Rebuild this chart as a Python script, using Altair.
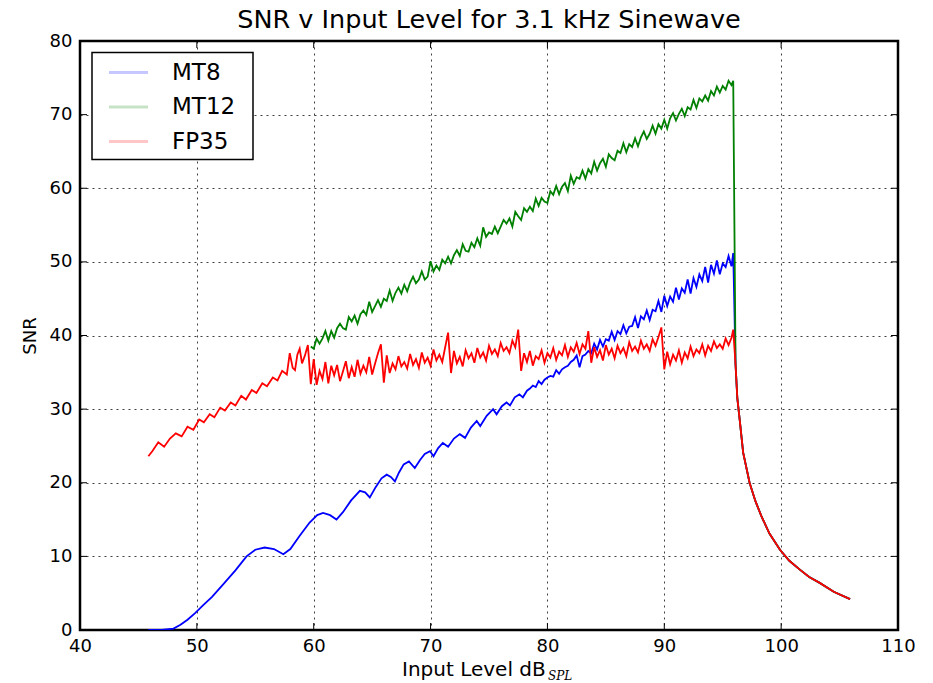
import altair as alt
import pandas as pd

SERIES = ["MT8", "MT12", "FP35"]
COLORS = ["#0000ff", "#008000", "#ff0000"]
X_TICKS = [40, 50, 60, 70, 80, 90, 100, 110]
Y_TICKS = [0, 10, 20, 30, 40, 50, 60, 70, 80]
STEP = 0.25

# shared decay after the 96 dB cut-off
TAIL_X = [96.1, 96.25, 96.45, 96.75, 97.3, 97.8, 98.3, 99.0, 99.9, 100.7, 101.6, 102.4, 103.3, 104.5, 105.9]
TAIL_Y = [36.0, 31.5, 28.6, 24.1, 20.0, 17.5, 15.5, 13.1, 10.9, 9.4, 8.2, 7.2, 6.4, 5.2, 4.2]

# MT8 (blue)
MT8_SMOOTH_X = [45.85, 47.0, 48.0, 48.6, 49.2, 49.85, 50.5, 51.3, 52.25, 53.3,
                54.25, 55.0, 55.8, 56.6, 57.4, 58.0, 58.8, 59.65, 60.3, 60.8,
                61.4, 61.95, 62.5, 63.2, 63.95, 64.4, 64.8, 65.3, 65.8, 66.25,
                66.6, 66.95, 67.3, 67.7, 68.15, 68.65, 69.1, 69.5, 69.95, 70.25,
                70.65, 71.05, 71.5, 72.0, 72.5, 72.95, 73.45, 73.95, 74.25, 74.8,
                75.35, 75.65, 76.1, 76.5, 76.8, 77.2, 77.6, 77.9, 78.25]
MT8_SMOOTH_Y = [0.0, 0.0, 0.2, 0.7, 1.4, 2.3, 3.3, 4.5, 6.2, 8.1,
                10.0, 10.9, 11.2, 11.0, 10.3, 11.0, 12.8, 14.6, 15.6, 15.9,
                15.6, 15.0, 16.0, 17.6, 18.9, 18.7, 18.0, 19.4, 20.6, 21.1,
                20.8, 20.2, 21.4, 22.5, 22.9, 22.0, 23.1, 23.9, 24.3, 23.6,
                24.7, 25.4, 24.9, 26.0, 26.6, 26.1, 27.5, 28.4, 27.7, 29.1,
                30.0, 29.3, 30.4, 30.9, 30.5, 31.6, 32.0, 31.6, 32.5]
MT8_NOISY_START = 78.5
MT8_NOISY_Y = [
    32.8, 33.2, 33.0, 33.8, 33.4, 34.0, 34.3, 34.5,
    34.4, 35.3, 34.8, 35.4, 35.7, 35.9, 36.4, 36.7,
    37.3, 35.7, 37.2, 37.4, 37.9, 37.6, 38.9, 38.1,
    39.4, 38.5, 39.5, 39.3, 40.5, 39.4, 40.6, 40.2,
    41.4, 40.3, 41.2, 41.3, 42.5, 41.0, 42.6, 42.2,
    43.4, 42.1, 43.5, 43.3, 44.7, 43.2, 45.4, 44.0,
    45.3, 44.6, 46.5, 44.9, 46.4, 45.8, 47.6, 45.7,
    47.8, 46.6, 48.3, 47.4, 49.3, 47.2, 49.6, 48.4,
    50.2, 48.3, 49.8, 49.3, 50.8, 49.4,
]
MT8_PEAK_X, MT8_PEAK_Y = 95.9, 51.2

# MT12 (green)
MT12_NOISY_START = 59.75
MT12_NOISY_Y = [
    38.5, 38.2, 39.6, 38.9, 39.6, 40.6, 39.3, 40.6,
    39.7, 41.0, 41.6, 41.0, 40.8, 42.5, 41.9, 42.7,
    41.6, 42.9, 43.4, 42.8, 44.6, 43.2, 44.0, 44.8,
    43.9, 45.0, 44.7, 46.1, 44.7, 45.8, 46.5, 45.7,
    46.9, 46.0, 47.2, 48.0, 47.1, 47.6, 48.7, 47.6,
    48.0, 50.1, 48.7, 49.5, 48.9, 50.3, 49.8, 50.7,
    49.8, 50.9, 51.6, 50.8, 52.4, 51.5, 51.4, 52.6,
    52.0, 53.2, 52.2, 54.7, 53.4, 54.0, 53.8, 54.8,
    53.9, 54.8, 55.7, 55.2, 55.9, 54.8, 56.8, 56.2,
    55.7, 57.3, 56.8, 57.5, 56.9, 58.6, 57.6, 58.7,
    58.2, 58.0, 59.6, 59.1, 60.3, 59.2, 60.2, 60.7,
    59.6, 61.7, 60.6, 61.5, 61.3, 62.4, 61.3, 62.6,
    62.0, 63.6, 62.4, 63.4, 64.0, 62.9, 64.6, 64.1,
    63.8, 65.1, 64.8, 66.1, 64.9, 66.0, 65.6, 66.8,
    65.7, 66.9, 67.7, 66.7, 67.4, 68.5, 67.4, 68.7,
    68.1, 69.3, 68.1, 69.5, 70.2, 69.2, 70.1, 70.8,
    69.8, 71.0, 70.7, 72.0, 70.9, 72.2, 71.8, 72.6,
    71.9, 73.2, 72.6, 73.8, 73.0, 73.9, 73.4, 74.6,
    74.0,
]
MT12_PEAK_X, MT12_PEAK_Y = 95.9, 74.6

# FP35 (red)
FP35_SMOOTH_X = [45.85, 46.2, 46.7, 47.2, 47.7, 48.2, 48.7, 49.2, 49.7, 50.2,
                 50.6, 51.1, 51.5, 52.0, 52.4, 52.9, 53.3, 53.8, 54.2, 54.7,
                 55.1, 55.6, 56.0, 56.5, 56.9, 57.3, 57.7, 57.95, 58.2, 58.4,
                 58.6, 58.8, 59.0, 59.25, 59.5]
FP35_SMOOTH_Y = [23.6, 24.3, 25.5, 24.9, 26.0, 26.7, 26.3, 27.6, 27.2, 28.6,
                 28.2, 29.3, 28.9, 30.2, 29.8, 30.9, 30.5, 31.8, 31.3, 32.6,
                 32.2, 33.5, 33.1, 34.3, 33.9, 35.2, 34.7, 37.6, 35.6, 35.3,
                 37.4, 38.2, 36.2, 37.3, 38.7]
FP35_NOISY_START = 59.75
FP35_NOISY_Y = [
    33.4, 36.8, 33.3, 35.2, 34.1, 36.4, 33.5, 35.9,
    34.6, 36.0, 33.8, 35.1, 36.5, 34.2, 35.7, 34.4,
    36.7, 34.8, 35.9, 35.0, 37.1, 34.7, 36.2, 37.6,
    38.8, 33.6, 37.3, 34.9, 36.2, 35.4, 37.2, 35.8,
    36.4, 35.5, 37.5, 36.0, 36.8, 35.6, 37.7, 36.3,
    37.0, 35.9, 38.1, 36.6, 37.4, 36.4, 38.4, 40.4,
    34.9, 37.9, 36.2, 37.1, 35.8, 38.0, 36.9, 37.6,
    36.3, 38.3, 37.0, 37.7, 36.6, 38.6, 37.5, 38.1,
    37.2, 39.0, 37.9, 38.4, 37.6, 39.3, 38.4, 40.8,
    35.2, 37.6, 36.4, 37.9, 35.9, 37.2, 36.8, 38.0,
    36.3, 37.6, 37.0, 38.3, 36.7, 37.8, 37.3, 38.7,
    37.1, 38.4, 37.8, 39.0, 37.5, 38.8, 38.2, 40.6,
    36.3, 38.4, 37.1, 38.0, 36.6, 38.7, 37.4, 38.2,
    36.9, 38.6, 37.6, 38.3, 37.2, 39.1, 37.9, 38.5,
    37.7, 39.3, 38.2, 38.8, 37.9, 39.5, 38.6, 39.8,
    41.1, 35.4, 37.8, 36.1, 37.4, 36.6, 38.0, 36.3,
    37.7, 36.9, 38.5, 37.2, 38.1, 37.6, 38.8, 37.3,
    38.6, 37.9, 39.2, 38.3, 38.8, 38.2, 39.6, 38.7,
    39.7,
]
FP35_PEAK_X, FP35_PEAK_Y = 95.9, 40.8


def grid(start, n):
    return [round(start + STEP * i, 3) for i in range(n)]


rows = []


def add(name, xs, ys):
    for i, (a, b) in enumerate(zip(xs, ys)):
        rows.append({"x": a, "y": b, "series": name, "idx": i})


add("MT8",
    MT8_SMOOTH_X + grid(MT8_NOISY_START, len(MT8_NOISY_Y)) + [MT8_PEAK_X] + TAIL_X,
    MT8_SMOOTH_Y + MT8_NOISY_Y + [MT8_PEAK_Y] + TAIL_Y)
add("MT12",
    grid(MT12_NOISY_START, len(MT12_NOISY_Y)) + [MT12_PEAK_X] + TAIL_X,
    MT12_NOISY_Y + [MT12_PEAK_Y] + TAIL_Y)
add("FP35",
    FP35_SMOOTH_X + grid(FP35_NOISY_START, len(FP35_NOISY_Y)) + [FP35_PEAK_X] + TAIL_X,
    FP35_SMOOTH_Y + FP35_NOISY_Y + [FP35_PEAK_Y] + TAIL_Y)
df = pd.DataFrame(rows)

W, H = 818, 589
FONT = "DejaVu Sans"
XS = alt.Scale(domain=[40, 110], nice=False, zero=False)
YS = alt.Scale(domain=[0, 80], nice=False, zero=False)

lines = alt.Chart(df).mark_line(strokeWidth=1.8, clip=True).encode(
    x=alt.X("x:Q", scale=XS, title=None,
            axis=alt.Axis(values=X_TICKS, grid=True, labelFlush=False,
                          labelOverlap=False, labelPadding=7, format="d")),
    y=alt.Y("y:Q", scale=YS, title="SNR",
            axis=alt.Axis(values=Y_TICKS, grid=True, labelFlush=False,
                          labelOverlap=False, labelPadding=8, titlePadding=10,
                          format="d")),
    color=alt.Color("series:N", scale=alt.Scale(domain=SERIES, range=COLORS),
                    legend=None),
    order=alt.Order("idx:Q"),
)

xt = pd.DataFrame({"t": X_TICKS})
yt = pd.DataFrame({"t": Y_TICKS})
TL = 7
tick_b = alt.Chart(xt).mark_rule(color="black", strokeWidth=1).encode(
    x=alt.X("t:Q", scale=XS, title=None), y=alt.value(H), y2=alt.value(H - TL))
tick_t = alt.Chart(xt).mark_rule(color="black", strokeWidth=1).encode(
    x=alt.X("t:Q", scale=XS, title=None), y=alt.value(0), y2=alt.value(TL))
tick_l = alt.Chart(yt).mark_rule(color="black", strokeWidth=1).encode(
    y=alt.Y("t:Q", scale=YS, title="SNR"), x=alt.value(0), x2=alt.value(TL))
tick_r = alt.Chart(yt).mark_rule(color="black", strokeWidth=1).encode(
    y=alt.Y("t:Q", scale=YS, title="SNR"), x=alt.value(W), x2=alt.value(W - TL))

# legend (upper left, faint line samples as in the reference)
legend_layers = [
    alt.Chart(pd.DataFrame({"k": [0]})).mark_rect(
        fill="white", stroke="black", strokeWidth=1.5).encode(
        x=alt.value(12), x2=alt.value(173), y=alt.value(11.5), y2=alt.value(118.5))
]
ROW_Y = [31.5, 66.0, 100.5]
for name, col, ry in zip(SERIES, COLORS, ROW_Y):
    legend_layers.append(
        alt.Chart(pd.DataFrame({"label": [name]})).mark_rule(
            color=col, opacity=0.22, strokeWidth=3).encode(
            x=alt.value(29), x2=alt.value(68), y=alt.value(ry)))
    legend_layers.append(
        alt.Chart(pd.DataFrame({"label": [name]})).mark_text(
            align="left", baseline="middle", font=FONT, fontSize=23,
            color="black").encode(
            text="label:N", x=alt.value(92), y=alt.value(ry)))

title_txt = alt.Chart(pd.DataFrame({"label": ["SNR v Input Level for 3.1 kHz Sinewave"]})).mark_text(
    align="center", baseline="alphabetic", font=FONT, fontSize=25.5, color="black").encode(
    text="label:N", x=alt.value(W / 2), y=alt.value(-13.5))
xlab = alt.Chart(pd.DataFrame({"label": ["Input Level dB"]})).mark_text(
    align="left", baseline="alphabetic", font=FONT, fontSize=20, color="black").encode(
    text="label:N", x=alt.value(322), y=alt.value(635))
xsub = alt.Chart(pd.DataFrame({"label": ["SPL"]})).mark_text(
    align="left", baseline="alphabetic", font="DejaVu Serif", fontStyle="italic",
    fontSize=12, color="black").encode(
    text="label:N", x=alt.value(468), y=alt.value(639))

chart = alt.layer(
    lines, tick_b, tick_t, tick_l, tick_r, *legend_layers, title_txt, xlab, xsub
).properties(
    width=W, height=H,
    padding={"left": 80, "top": 41, "right": 35, "bottom": 53},
    autosize=alt.AutoSizeParams(type="none"),
).configure(background="white").configure_view(
    stroke="black", strokeWidth=2.5
).configure_axis(
    labelFont=FONT, labelFontSize=18, labelColor="black",
    titleFont=FONT, titleFontSize=18, titleFontWeight="normal", titleColor="black",
    gridColor="black", gridDash=[2, 4], gridOpacity=0.75, gridWidth=1,
    ticks=False, domain=False,
)

chart.save("out.html", embed_options={"renderer": "svg", "actions": False})
